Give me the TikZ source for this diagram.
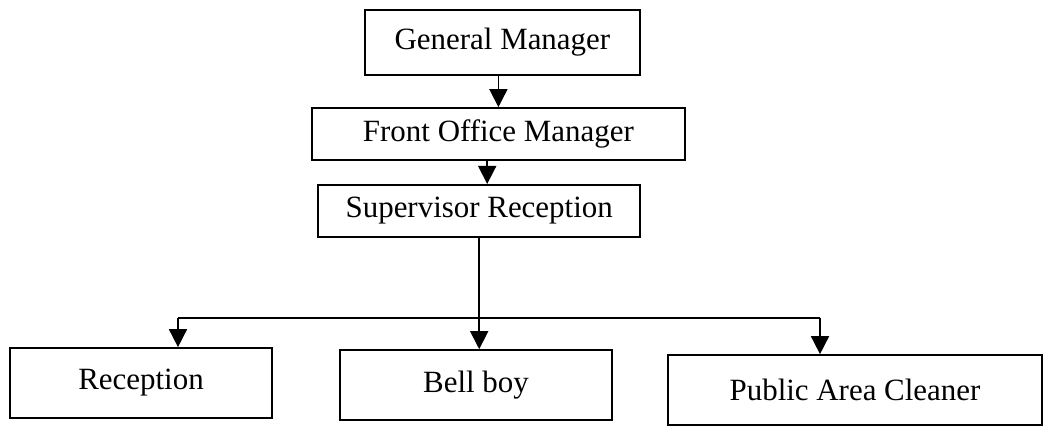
\documentclass[tikz,border=0pt]{standalone}
\usepackage{fontspec}
\setmainfont{Liberation Serif}
\usetikzlibrary{shapes,arrows.meta,positioning,calc}

\begin{document}
\begin{tikzpicture}[
    staff_box/.style={rectangle, draw=black, line width=1.2pt, text centered, font=\fontsize{22}{26}\selectfont},
    arrow/.style={line width=1.2pt, -{Triangle[length=4.5mm,width=4.5mm]}},
    link/.style={line width=1.2pt}
]
\useasboundingbox (0,0) rectangle (26.425,11);

\node[staff_box, minimum width=6.875cm, minimum height=1.625cm] (gm) at (12.56, 9.94) {General Manager};
\node[staff_box, minimum width=9.33cm, minimum height=1.3cm] (fom) at (12.46, 7.65) {Front Office Manager};
\node[staff_box, minimum width=8.05cm, minimum height=1.3cm] (sr) at (11.98, 5.73) {Supervisor Reception};
\node[staff_box, minimum width=6.55cm, minimum height=1.75cm] (rec) at (3.525, 1.425) {Reception};
\node[staff_box, minimum width=6.8cm, minimum height=1.75cm] (bell) at (11.9, 1.375) {Bell boy};
\node[staff_box, minimum width=9.35cm, minimum height=1.75cm] (pac) at (21.375, 1.25) {Public Area Cleaner};

\coordinate (fom_out) at (12.18, 7.0);
\coordinate (left_drop) at (4.45, 3.05);
\coordinate (right_drop) at (20.5, 3.05);

\draw[arrow] (gm.south -| fom.north) -- (fom.north);
\draw[arrow] (fom_out) -- (fom_out |- sr.north);
\draw[arrow] (sr.south) -- (sr.south |- bell.north);

% branch to the side boxes
\draw[link] (left_drop) -- (right_drop);
\draw[arrow] (left_drop) -- (left_drop |- rec.north);
\draw[arrow] (right_drop) -- (right_drop |- pac.north);

\end{tikzpicture}
\end{document}
